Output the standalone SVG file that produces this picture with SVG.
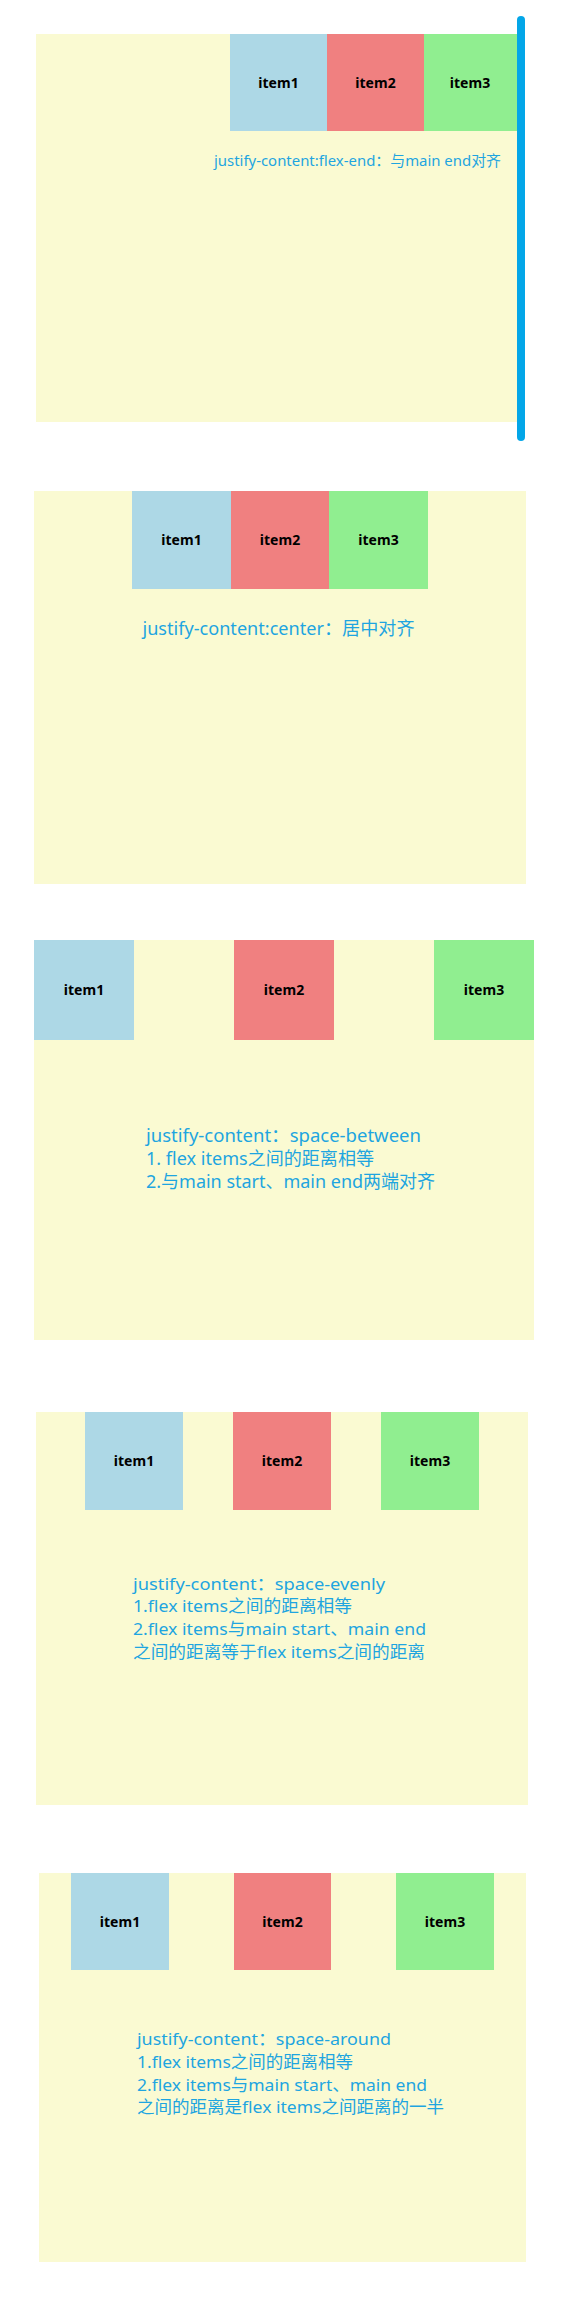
<svg xmlns="http://www.w3.org/2000/svg" width="570" height="2308" viewBox="0 0 570 2308">
<style>
.panel{fill:#fafad2}
.i1{fill:#add8e6}
.i2{fill:#f08080}
.i3{fill:#90ee90}
.lbl{font-family:"Noto Sans","Liberation Sans",sans-serif;font-weight:bold;font-size:14px;fill:#000;text-anchor:middle}
.note{font-family:"Noto Sans","Noto Sans CJK SC",sans-serif;fill:#1ea5e0}
</style>
<rect width="570" height="2308" fill="#ffffff"/>

<g id="panel-flex-end">
<rect class="panel" x="36" y="34" width="482" height="388"/>
<g id="p1-item1"><rect class="i1" x="230" y="34" width="97" height="97"/><text class="lbl" x="278.5" y="88">item1</text></g>
<g id="p1-item2"><rect class="i2" x="327" y="34" width="97" height="97"/><text class="lbl" x="375.5" y="88">item2</text></g>
<g id="p1-item3"><rect class="i3" x="424" y="34" width="94" height="97"/><text class="lbl" x="470" y="88">item3</text></g>
<text class="note" x="214" y="166" font-size="15" textLength="287" lengthAdjust="spacingAndGlyphs">justify-content:flex-end：与main end对齐</text>
<line x1="521" y1="20" x2="521" y2="437" stroke="#03a6e8" stroke-width="8" stroke-linecap="round"/>
</g>

<g id="panel-center">
<rect class="panel" x="34" y="491" width="492" height="393"/>
<g id="p2-item1"><rect class="i1" x="132" y="491" width="99" height="98"/><text class="lbl" x="181.5" y="545">item1</text></g>
<g id="p2-item2"><rect class="i2" x="231" y="491" width="98" height="98"/><text class="lbl" x="280" y="545">item2</text></g>
<g id="p2-item3"><rect class="i3" x="329" y="491" width="99" height="98"/><text class="lbl" x="378.5" y="545">item3</text></g>
<text class="note" x="142.5" y="635" font-size="18" textLength="272" lengthAdjust="spacingAndGlyphs">justify-content:center：居中对齐</text>
</g>

<g id="panel-space-between">
<rect class="panel" x="34" y="940" width="500" height="400"/>
<g id="p3-item1"><rect class="i1" x="34" y="940" width="100" height="100"/><text class="lbl" x="84" y="995">item1</text></g>
<g id="p3-item2"><rect class="i2" x="234" y="940" width="100" height="100"/><text class="lbl" x="284" y="995">item2</text></g>
<g id="p3-item3"><rect class="i3" x="434" y="940" width="100" height="100"/><text class="lbl" x="484" y="995">item3</text></g>
<text class="note" x="146" y="1142" font-size="18" textLength="275" lengthAdjust="spacingAndGlyphs">justify-content：space-between</text>
<text class="note" x="146" y="1165" font-size="18" textLength="228" lengthAdjust="spacingAndGlyphs">1. flex items之间的距离相等</text>
<text class="note" x="146" y="1188" font-size="18" textLength="289" lengthAdjust="spacingAndGlyphs">2.与main start、main end两端对齐</text>
</g>

<g id="panel-space-evenly">
<rect class="panel" x="36" y="1412" width="492" height="393"/>
<g id="p4-item1"><rect class="i1" x="85" y="1412" width="98" height="98"/><text class="lbl" x="134" y="1466">item1</text></g>
<g id="p4-item2"><rect class="i2" x="233" y="1412" width="98" height="98"/><text class="lbl" x="282" y="1466">item2</text></g>
<g id="p4-item3"><rect class="i3" x="381" y="1412" width="98" height="98"/><text class="lbl" x="430" y="1466">item3</text></g>
<text class="note" x="133" y="1590" font-size="17" textLength="252" lengthAdjust="spacingAndGlyphs">justify-content：space-evenly</text>
<text class="note" x="133" y="1612" font-size="17" textLength="219" lengthAdjust="spacingAndGlyphs">1.flex items之间的距离相等</text>
<text class="note" x="133" y="1635" font-size="17" textLength="293" lengthAdjust="spacingAndGlyphs">2.flex items与main start、main end</text>
<text class="note" x="133" y="1658" font-size="17" textLength="292" lengthAdjust="spacingAndGlyphs">之间的距离等于flex items之间的距离</text>
</g>

<g id="panel-space-around">
<rect class="panel" x="39" y="1873" width="487" height="389"/>
<g id="p5-item1"><rect class="i1" x="71" y="1873" width="98" height="97"/><text class="lbl" x="120" y="1927">item1</text></g>
<g id="p5-item2"><rect class="i2" x="234" y="1873" width="97" height="97"/><text class="lbl" x="282.5" y="1927">item2</text></g>
<g id="p5-item3"><rect class="i3" x="396" y="1873" width="98" height="97"/><text class="lbl" x="445" y="1927">item3</text></g>
<text class="note" x="137" y="2045" font-size="17" textLength="254" lengthAdjust="spacingAndGlyphs">justify-content：space-around</text>
<text class="note" x="137" y="2068" font-size="17" textLength="216" lengthAdjust="spacingAndGlyphs">1.flex items之间的距离相等</text>
<text class="note" x="137" y="2091" font-size="17" textLength="290" lengthAdjust="spacingAndGlyphs">2.flex items与main start、main end</text>
<text class="note" x="137" y="2113" font-size="17" textLength="307" lengthAdjust="spacingAndGlyphs">之间的距离是flex items之间距离的一半</text>
</g>

<g id="connectors"/>
</svg>
